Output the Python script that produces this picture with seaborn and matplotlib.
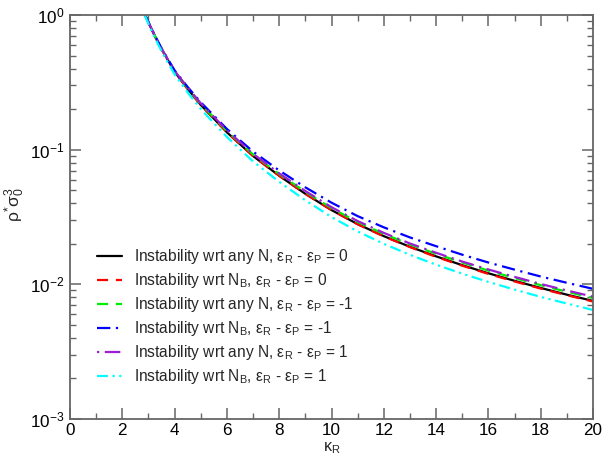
import numpy as np
import pandas as pd
import matplotlib
matplotlib.use("Agg")
import matplotlib.pyplot as plt
from matplotlib.lines import Line2D
import seaborn as sns

# ---- data ----
kappa = [2.85, 3.0, 3.25, 3.5, 4, 4.5, 5, 6, 7, 8, 9, 10, 11, 12, 13, 14, 15, 16, 17, 18, 19, 20]

any_N_0 = [1.02, 0.879, 0.694, 0.558, 0.379, 0.282, 0.215, 0.1346, 0.0897, 0.0640, 0.0470, 0.0356,
           0.0280, 0.0228, 0.0190, 0.01614, 0.01387, 0.01208, 0.01062, 0.00940, 0.00838, 0.00753]
NB_0 = [1.02, 0.879, 0.694, 0.558, 0.379, 0.282, 0.215, 0.1346, 0.0897, 0.0640, 0.0470, 0.0356,
        0.0279, 0.0227, 0.0189, 0.0160, 0.01375, 0.01195, 0.0105, 0.0093, 0.0083, 0.00745]
any_N_m1 = [1.02, 0.879, 0.697, 0.562, 0.383, 0.287, 0.219, 0.1377, 0.0922, 0.0659, 0.0486, 0.0368,
            0.0290, 0.0237, 0.0198, 0.01686, 0.01452, 0.01265, 0.01114, 0.00986, 0.00881, 0.00792]
NB_m1 = [1.02, 0.885, 0.702, 0.567, 0.388, 0.292, 0.225, 0.1425, 0.0968, 0.0701, 0.0525, 0.0404,
         0.0321, 0.0265, 0.0223, 0.0192, 0.0166, 0.01452, 0.01286, 0.01143, 0.01027, 0.00926]
any_N_p1 = [1.02, 0.882, 0.699, 0.564, 0.385, 0.289, 0.221, 0.1392, 0.0932, 0.0667, 0.0493, 0.0374,
            0.0295, 0.0241, 0.0201, 0.01715, 0.01476, 0.01289, 0.01136, 0.01006, 0.00900, 0.00810]
NB_p1 = [1.008, 0.859, 0.675, 0.539, 0.362, 0.266, 0.2006, 0.1242, 0.0818, 0.0577, 0.0421, 0.0316,
         0.0247, 0.0200, 0.01655, 0.01399, 0.0120, 0.01042, 0.00914, 0.00807, 0.00720, 0.00645]

labels = [
    r"Instability wrt any N, ε$_\mathregular{R}$ - ε$_\mathregular{P}$ = 0",
    r"Instability wrt N$_\mathregular{B}$, ε$_\mathregular{R}$ - ε$_\mathregular{P}$ = 0",
    r"Instability wrt any N, ε$_\mathregular{R}$ - ε$_\mathregular{P}$ = -1",
    r"Instability wrt N$_\mathregular{B}$, ε$_\mathregular{R}$ - ε$_\mathregular{P}$ = -1",
    r"Instability wrt any N, ε$_\mathregular{R}$ - ε$_\mathregular{P}$ = 1",
    r"Instability wrt N$_\mathregular{B}$, ε$_\mathregular{R}$ - ε$_\mathregular{P}$ = 1",
]
series = [any_N_0, NB_0, any_N_m1, NB_m1, any_N_p1, NB_p1]
colors = ["#000000", "#ff0000", "#00ee00", "#0000ff", "#9a1fd0", "#00ffff"]
dash_styles = ["", (5, 3.5), (5, 3.5), (6, 2.5, 1, 2.5), (1, 2.5, 7, 2.5), (5, 2, 1, 2, 1, 2)]

rows = []
for lab, vals in zip(labels, series):
    for k, v in zip(kappa, vals):
        rows.append({"kappa": k, "rho": v, "series": lab})
df = pd.DataFrame(rows)

# ---- style ----
sns.set_style("ticks")
plt.rcParams["font.family"] = ["Liberation Sans", "DejaVu Sans"]
plt.rcParams["mathtext.fontset"] = "custom"
plt.rcParams["mathtext.rm"] = "Liberation Sans"
plt.rcParams["mathtext.it"] = "Liberation Sans:italic"
plt.rcParams["mathtext.bf"] = "Liberation Sans:bold"

fig = plt.figure(figsize=(6.03, 4.57), dpi=100)
ax = fig.add_axes([70 / 603, 1 - 419 / 457, 523 / 603, 404 / 457])

sns.lineplot(data=df, x="kappa", y="rho", hue="series", style="series",
             hue_order=labels, style_order=labels,
             palette=dict(zip(labels, colors)),
             dashes=dict(zip(labels, dash_styles)),
             linewidth=1.6, ax=ax, legend=False, sort=True)

ax.set_yscale("log")
ax.set_xlim(0, 20)
ax.set_ylim(1e-3, 1)
ax.set_xticks(np.arange(0, 21, 2))
ax.set_xticks(np.arange(0, 21, 1), minor=True)

frame = "#666666"
for s in ax.spines.values():
    s.set_color(frame)
    s.set_linewidth(1.3)
ax.tick_params(which="both", direction="in", top=True, right=True, colors=frame,
               labelcolor="black", labelsize=12.3)
ax.tick_params(which="major", length=8, width=1.1, pad=4)
ax.tick_params(axis="x", which="major", pad=3)
ax.tick_params(which="minor", length=4.5, width=1.0)

ax.set_xlabel(r"κ$_\mathregular{R}$", fontsize=11.5)
ax.xaxis.set_label_coords(0.5, -0.052)
ax.set_ylabel(r"ρ$^{*}$σ$_{0}^{3}$", fontsize=12.5)
ax.yaxis.set_label_coords(-0.083, 0.53)

# legend
handles = []
for c, d in zip(colors, dash_styles):
    ln = Line2D([], [], color=c, linewidth=1.6)
    if d:
        ln.set_dashes(d)
    handles.append(ln)
ax.legend(handles, labels, loc="upper left", bbox_to_anchor=(0.052, 0.425),
          frameon=False, fontsize=11.2, handlelength=1.6, handletextpad=0.75,
          labelspacing=0.32, borderpad=0, borderaxespad=0)

fig.savefig("out.png", dpi=100)
